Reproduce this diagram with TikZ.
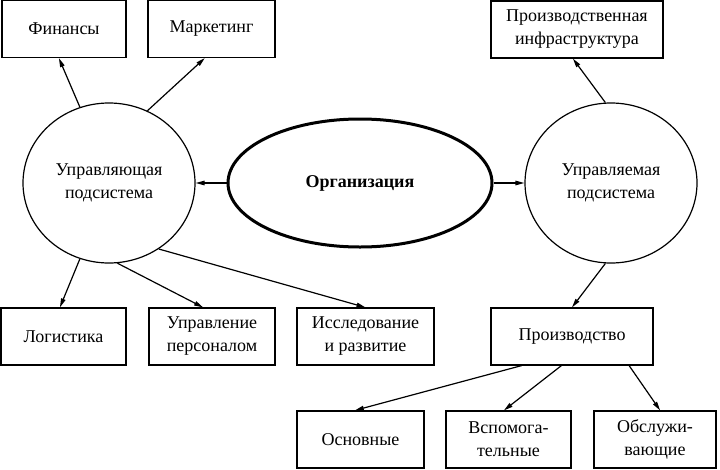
\documentclass[tikz,border=0pt]{standalone}
\usepackage{fontspec}
\setmainfont{Liberation Serif}
\usetikzlibrary{shapes.geometric}
\usetikzlibrary{arrows.meta}

\begin{document}
\begin{tikzpicture}[x=1pt,y=-1pt,line width=1.2pt,
        box/.style = {rectangle,draw,inner sep=0pt,align=center,minimum height=57pt},
        sub/.style = {ellipse,draw,inner sep=0pt,align=center,minimum width=172pt,minimum height=160pt},
        arr/.style = {arrows = -{Triangle[length=9pt,width=4.5pt]}}]

        \useasboundingbox (0,0) rectangle (720,469);
        \fontsize{18}{23}\selectfont

        \path   (64,29)      node (fin)  [box,minimum width=124pt] {Финансы}
                (211.5,29)   node (mar)  [box,minimum width=127pt] {Маркетинг}
                (577,29.5)   node (inf)  [box,minimum width=172pt] {Производственная\\инфраструктура}
                (109,183)    node (lc)   [sub] {Управляющая\\подсистема}
                (360,183)    node (org)  [ellipse,draw,line width=3pt,minimum width=264pt,minimum height=128pt] {\textbf{Организация}}
                (611,183)    node (rc)   [sub] {Управляемая\\подсистема}
                (63.5,336.5) node (log)  [box,minimum width=125pt] {Логистика}
                (212,336.5)  node (upr)  [box,minimum width=126pt] {Управление\\персоналом}
                (365.5,336.5) node (res) [box,minimum width=137pt] {Исследование\\и развитие}
                (572,336.5)  node (prod) [box,minimum width=162pt] {Производство}
                (360.5,439.5) node (osn) [box,minimum width=127pt] {Основные}
                (508.5,439.5) node (vsp) [box,minimum width=125pt] {Вспомога-\\тельные}
                (655,439.5)  node (obs)  [box,minimum width=122pt] {Обслужи-\\вающие};

        \draw[arr] (org.west) -- (lc.east);
        \draw[arr] (org.east) -- (rc.west);

        \draw[arr] (lc.111) -- (fin.-100);
        \draw[arr] (lc.62) -- (mar.-103);
        \draw[arr] (lc.-111) -- (log.97);
        \draw[arr] (lc.-84) -- (upr.107);
        \draw[arr] (lc.-53) -- (res.north);

        \draw[arr] (rc.94) -- (inf.-98);
        \draw[arr] (rc.-94) -- (prod.north);

        \draw[arr] (prod.-150) -- (osn.101);
        \draw[arr] (prod.-110) -- (vsp.99);
        \draw[arr] (prod.-27) -- (obs.80);

    \end{tikzpicture}
\end{document}
